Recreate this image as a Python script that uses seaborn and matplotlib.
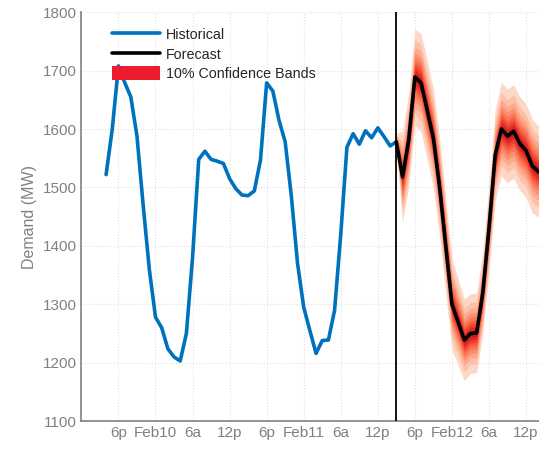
import numpy as np
import pandas as pd
import matplotlib
matplotlib.use("Agg")
import matplotlib.pyplot as plt
from matplotlib.lines import Line2D
from matplotlib.patches import Patch
import seaborn as sns

# Hourly demand (MW)
hist_start = "2015-02-09 16:00"
hist_mw = [1522, 1600, 1708, 1680, 1655, 1588, 1470, 1360, 1278, 1260,
           1224, 1210, 1203, 1250, 1380, 1548, 1562, 1548, 1545, 1541,
           1515, 1498, 1487, 1486, 1494, 1547, 1679, 1665, 1615, 1578,
           1485, 1370, 1295, 1255, 1216, 1238, 1239, 1290, 1420, 1569,
           1592, 1574, 1597, 1585, 1602, 1587, 1571, 1578]

fc_start = "2015-02-11 15:00"
fc_mw = [1578, 1518, 1581, 1689, 1679, 1632, 1584, 1501, 1400, 1300,
         1270, 1239, 1250, 1251, 1320, 1430, 1555, 1600, 1588, 1596,
         1575, 1563, 1537, 1527]
# half-width of the outermost band at each forecast hour
fc_spread = [15, 78, 80, 82, 84, 85, 85, 85, 82, 78, 74, 70, 68, 68,
             70, 74, 78, 80, 80, 80, 80, 80, 80, 78]
# share of the outer width covered by each nested band (outer -> inner)
band_share = [1.0, 0.78, 0.63, 0.51, 0.41, 0.32, 0.24, 0.16, 0.08]

ytick_vals = [1100, 1200, 1300, 1400, 1500, 1600, 1700, 1800]
hour_names = {6: "6a", 12: "12p", 18: "6p"}

hist = pd.DataFrame({"time": pd.date_range(hist_start, periods=len(hist_mw), freq="h"),
                     "mw": hist_mw})
fc = pd.DataFrame({"time": pd.date_range(fc_start, periods=len(fc_mw), freq="h"),
                   "mw": fc_mw, "spread": fc_spread})

sns.set_style("white")
plt.rcParams["font.family"] = ["Liberation Sans", "DejaVu Sans"]

grey = "#808080"
fig = plt.figure(figsize=(5.39, 4.5), dpi=100)
ax = fig.add_axes([0.151, 0.064, 0.849, 0.909])

# confidence bands, lightest (widest) first
band_cols = sns.color_palette("Reds", len(band_share) + 3)[1:len(band_share) + 1]
for share, col in zip(band_share, band_cols):
    ax.fill_between(fc["time"], fc["mw"] - share * fc["spread"],
                    fc["mw"] + share * fc["spread"], color=col, lw=0, zorder=1)

sns.lineplot(data=hist, x="time", y="mw", ax=ax, color="#0072BD", lw=2.6, zorder=3)
sns.lineplot(data=fc, x="time", y="mw", ax=ax, color="black", lw=2.6, zorder=3)
ax.axvline(pd.Timestamp(fc_start), color="black", lw=1.3, zorder=4)

ax.set_xlim(pd.Timestamp("2015-02-09 12:00"), pd.Timestamp("2015-02-12 14:06"))
ax.set_ylim(1100, 1800)
ax.set_yticks(ytick_vals)

xt = pd.date_range("2015-02-09 18:00", "2015-02-12 12:00", freq="6h")
ax.set_xticks(xt)
ax.set_xticklabels([hour_names[t.hour] if t.hour else f"Feb{t.day}" for t in xt])

ax.set_xlabel("")
ax.set_ylabel("Demand (MW)", color=grey, fontsize=11.5)
ax.tick_params(direction="in", length=5, colors=grey, labelsize=11, labelcolor=grey, width=1)
for s in ["top", "right"]:
    ax.spines[s].set_visible(False)
for s in ["left", "bottom"]:
    ax.spines[s].set_color(grey)
    ax.spines[s].set_linewidth(1.2)
ax.grid(True, ls=":", color="#e0e0e0", lw=0.8)
ax.set_axisbelow(True)

handles = [Line2D([], [], color="#0072BD", lw=2.6),
           Line2D([], [], color="black", lw=2.6),
           Patch(facecolor="#ED1C2E", edgecolor="none")]
ax.legend(handles, ["Historical", "Forecast", "10% Confidence Bands"],
          loc="upper left", bbox_to_anchor=(0.198, 0.952), bbox_transform=fig.transFigure,
          frameon=False, fontsize=10.3, handlelength=3.3, handleheight=1.2,
          handletextpad=0.45, labelspacing=0.28, borderaxespad=0)

fig.savefig("out.png", dpi=100)
